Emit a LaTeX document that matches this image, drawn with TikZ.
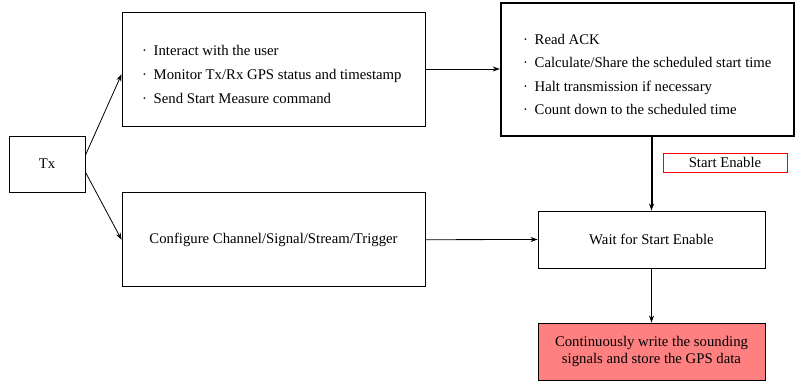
\documentclass[tikz,border=0pt]{standalone}
\usepackage{fontspec}
\setmainfont{Liberation Serif}
\usetikzlibrary{arrows.meta}
\definecolor{salmonfill}{RGB}{255,128,128}
\newcommand{\bitem}{\makebox[11.5pt][l]{\textperiodcentered}}

\begin{document}
\begin{tikzpicture}[x=1pt,y=-1pt,
  font=\fontsize{14.75}{17}\selectfont,
  box/.style={draw,line width=0.9pt,inner sep=0pt},
  list/.style={align=left,inner sep=0pt,anchor=west},
  arr/.style={-{Stealth[length=7pt,width=5pt]},line width=0.8pt}]
\useasboundingbox (0,0) rectangle (795,383);

% boxes
\node[box,minimum width=76pt,minimum height=56pt] (tx) at (47,164) {Tx};
\node[box,minimum width=303pt,minimum height=114pt] (mon) at (273.5,69) {};
\node[box,minimum width=303pt,minimum height=94pt] (cfg) at (273.5,239.7) {Configure Channel/Signal/Stream/Trigger};
\node[box,line width=2.4pt,minimum width=293pt,minimum height=133pt] (sched) at (647.5,69.5) {};
\node[box,minimum width=227pt,minimum height=57pt] (wait) at (651.5,239.5) {Wait for Start Enable};
\node[box,fill=salmonfill,align=center,minimum width=227pt,minimum height=57pt] (write) at (651.5,351.5) {Continuously write the sounding\\signals and store the GPS data};
\node[box,draw=red,line width=1pt,minimum width=124pt,minimum height=19pt] (enable) at (725,162.5) {Start Enable};

% bullet lists
\node[list] (monlist) at (142,74.5) {\bitem Interact with the user\\[7pt]
  \bitem Monitor Tx/Rx GPS status and timestamp\\[7pt]
  \bitem Send Start Measure command};
\node[list] (schedlist) at (523,74.5) {\bitem Read ACK\\[6.5pt]
  \bitem Calculate/Share the scheduled start time\\[6.5pt]
  \bitem Halt transmission if necessary\\[6.5pt]
  \bitem Count down to the scheduled time};

% connectors
\draw[arr] (tx.13) -- (mon.182);
\draw[arr] (tx.-12) -- (cfg.west);
\draw[arr] (mon.east) -- (mon.east -| sched.west);
\draw[arr] (cfg.east) -- (wait.west);
\draw[arr,line width=2pt] (sched.south -| wait.north) -- (wait.north);
\draw[arr] (wait.south) -- (write.north);
\end{tikzpicture}
\end{document}
